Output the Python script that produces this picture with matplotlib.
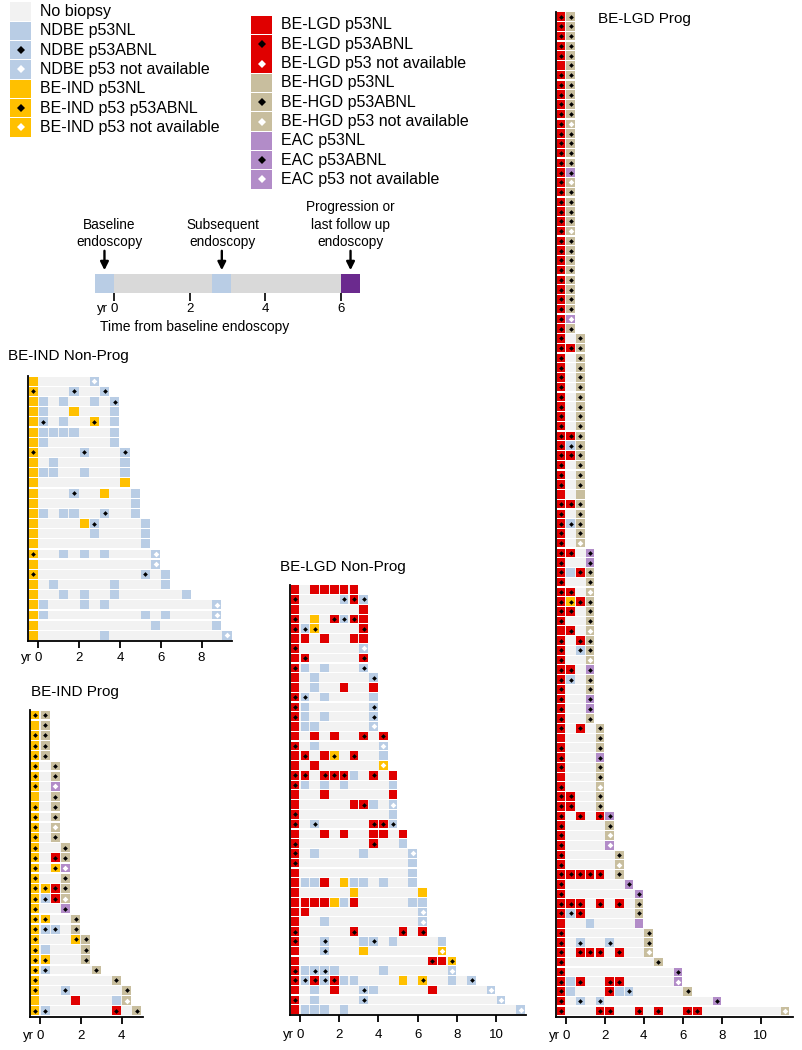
import re
import matplotlib
matplotlib.use("Agg")
import matplotlib.pyplot as plt
from matplotlib.patches import Rectangle

plt.rcParams["font.family"] = ["Liberation Sans", "DejaVu Sans"]

W, H = 803, 1050

# histology colours
colors = {"N": "#B9CDE5", "I": "#FFC000", "L": "#E00000", "H": "#C8BE9E", "E": "#B28CC8"}
no_biopsy = "#F2F2F2"

# one string per patient: "<years><histology><p53>"
# histology N=NDBE I=BE-IND L=BE-LGD H=BE-HGD E=EAC ; p53: a=ABNL, x=not available, none=NL
ind_nonprog = [
    "0I 3Nx", "0Ia 2Na 3.5Na", "0I 0.5N 1.5N 3N 4Na", "0I 0.5N 2I 4N",
    "0I 0.5Na 1.5N 3Ia 4N", "0I 0.5N 1N 1.5N 2N 4N", "0I 0.5N 4N", "0Ia 2.5Na 4.5Na",
    "0I 1N 4.5N", "0I 0.5N 1N 2.5N 4.5N", "0I 4.5I", "0I 2Na 3.5I 5N", "0I 5N",
    "0I 0.5N 1.5N 2N 3.5Na 5N", "0I 2.5I 3Na 5.5N", "0I 3N 5.5N", "0I 5.5N",
    "0Ia 1.5N 2.5N 3.5N 6Nx", "0I 6Nx", "0Ia 5.5Na 6.5N", "0I 1N 4N 6.5N",
    "0I 1.5N 2.5N 4N 7.5N", "0I 0.5N 2.5N 3.5N 9Nx", "0I 0.5N 5.5N 6.5N 9Nx",
    "0I 6N 9N", "0I 3.5N 9.5Nx",
]

ind_prog = [
    "0Ia 0.5Ha", "0I 0.5Ha", "0Ia 0.5Ha", "0Ia 0.5Ha", "0Ia 0.5Ha",
    "0Ia 1Ha", "0Ia 1Ha", "0Ia 1Ex", "0I 1Ha", "0Ia 1Ha", "0Ia 1Ha", "0Ia 1Hx", "0Ia 1Ha",
    "0Ia 1.5Ha", "0Ia 1La 1.5Ha", "0Ia 1Ia 1.5Ex", "0Ia 1.5Ha", "0Ia 0.5Ia 1La 1.5Ha",
    "0Ia 0.5Na 1La 1.5Hx", "0Ia 1.5Ea", "0Ia 0.5Ia 2Ha", "0Ia 0.5Na 1Na 2Ha",
    "0Ia 2Ia 2.5Ha", "0Ia 0.5N 2.5Ha", "0Ia 0.5Ia 2.5Ha", "0Ia 0.5Na 3Ha",
    "0Ia 4Ha", "0Ia 1.5Na 4.5Ha", "0I 2L 4N 4.5Hx", "0Ia 0.5Na 4La 5Ha",
]

lgd_nonprog = [
    "0L 1L 1.5L 2L 2.5L 3L", "0La 2.5Na 3La 3.5Na", "0L 3.5L",
    "0La 1I 2La 2.5Na 3La 3.5L", "0La 0.5Na 1Ia 3.5La", "0L 0.5L 1.5L 3L 3.5L",
    "0La 3.5Nx", "0L 0.5La 3.5La", "0La 0.5N 1.5N 3.5Na", "0L 1N 4Na", "0L 1N 2.5L 4L",
    "0La 0.5Na 1.5N 4N", "0La 0.5N 4Na", "0La 0.5N 1.5N 4Na", "0L 0.5N 1N 4Nx",
    "0L 1L 2L 3.5La 4.5La", "0La 1N 4.5Nx", "0L 0.5La 1.5L 2Ia 3La 4.5N", "0L 1L 4.5Ix",
    "0La 0.5La 1.5La 2La 2.5La 3N 4La 5L", "0La 0.5N 1.5N 2.5N 5N", "0L 1.5L 5L",
    "0L 3L 3.5La 4N 5Nx", "0La 5N", "0La 1Na 4La 4.5La 5Na", "0L 1.5L 2.5L 4L 4.5L 5.5L",
    "0La 4La 5.5N", "0La 1N 3.5N 6Nx", "0La 6N", "0L 6N",
    "0L 0.5N 1N 1.5L 2.5I 3N 3.5N 4.5N 6N", "0L 3I 6.5I",
    "0L 0.5L 1L 1.5L 2I 2.5N 3L 6N 6.5N", "0L 0.5L 6.5Nx", "0L 1.5N 6.5Nx",
    "0La 3La 5.5La 6.5La", "0La 1.5Na 3.5N 4Na 5N 7.5N", "0L 1.5Na 3.5I 7.5Ix",
    "0L 7La 7.5L 8Ia", "0La 0.5N 1Na 1.5Na 2N 4.5N 8Nx",
    "0La 0.5Na 1La 1.5Na 2La 2.5N 3N 5.5I 6.5Ia 8N 9Na",
    "0L 1N 2L 3.5Na 4N 7L 10Nx", "0La 1N 3.5Na 10.5Nx", "0L 0.5N 1N 1.5N 2.5N 11.5Nx",
]

lgd_prog = [
    "0La 0.5Ha", "0La 0.5Ha", "0La 0.5Ha", "0La 0.5Ha", "0La 0.5Ha", "0L 0.5Ha",
    "0La 0.5Ha", "0La 0.5Ha", "0La 0.5Ha", "0La 0.5Ha", "0La 0.5Ha", "0La 0.5Hx",
    "0La 0.5Ha", "0La 0.5Ha", "0La 0.5Ha", "0La 0.5Ha", "0La 0.5Ea", "0La 0.5Hx",
    "0La 0.5Ha", "0La 0.5Ha", "0La 0.5Ha", "0La 0.5Ha", "0La 0.5Hx", "0La 0.5Ha",
    "0La 0.5Ha", "0La 0.5Ha", "0La 0.5Ha", "0La 0.5Ha", "0La 0.5Ha", "0La 0.5Ha",
    "0La 0.5Ha", "0La 0.5Ex", "0La 0.5Ha",
    "0La 1Ha", "0La 0.5La 1Ha", "0La 1Ha", "0La 1Ha", "0La 1Ha", "0La 1Ha",
    "0La 1Ha", "0La 1Ha", "0La 1Ha", "0La 1Ha", "0La 0.5La 1Ha", "0La 0.5Na 1Ha",
    "0La 0.5La 1Ha", "0La 1Ha", "0La 1Ha", "0La 1Ha", "0L 1H", "0La 0.5La 1Ha",
    "0La 1Ha", "0La 0.5Na 1Ha", "0La 1Ha", "0La 1Hx",
    "0La 0.5La 1.5Ea", "0La 1.5Ea", "0La 0.5N 1La 1.5Ha", "0La 1.5Ha",
    "0La 0.5La 1.5Hx", "0La 0.5Ia 1La 1.5Ha", "0La 0.5La 1.5Ha", "0La 1.5Ha",
    "0L 0.5La 1.5Hx", "0La 1La 1.5Ha", "0La 1Na 1.5Ha", "0La 1.5Hx", "0La 0.5La 1.5Ea",
    "0La 0.5Na 1.5Ha", "0La 1.5Ha", "0La 1.5Ea", "0La 1.5Ea", "0La 1.5Ha",
    "0La 1La 2Ha", "0L 2Ha", "0La 2Ha", "0La 2Ea", "0La 2Ha", "0L 2Ha", "0La 2Hx",
    "0La 0.5La 2Ha", "0La 0.5La 2Ha", "0La 1La 2La 2.5Ea", "0La 2.5Ha", "0La 2.5Hx",
    "0La 2.5Ex", "0La 3Ha", "0La 3Hx", "0La 0.5La 1La 1.5La 2La 3Ha", "0La 3.5Ea",
    "0La 4Ea", "0La 0.5La 1La 2La 3La 4Ha", "0La 0.5Na 1La 4Ha", "0L 1.5N 4E",
    "0La 4.5Ha", "0La 1Na 2.5Na 4.5Ha", "0La 1La 1.5La 2La 3La 4.5Hx", "0La 5Ha",
    "0La 6Ea", "0La 0.5N 1La 2.5La 3La 6Ex", "0La 0.5N 2.5La 3N 3.5Na 6.5Ha",
    "0La 1Na 2Na 8Ea", "0La 2La 2.5La 4La 5La 6.5La 7La 11.5Hx",
]

legend_left = [
    ("No biopsy", no_biopsy, ""), ("NDBE p53NL", colors["N"], ""),
    ("NDBE p53ABNL", colors["N"], "a"), ("NDBE p53 not available", colors["N"], "x"),
    ("BE-IND p53NL", colors["I"], ""), ("BE-IND p53 p53ABNL", colors["I"], "a"),
    ("BE-IND p53 not available", colors["I"], "x"),
]
legend_right = [
    ("BE-LGD p53NL", colors["L"], ""), ("BE-LGD p53ABNL", colors["L"], "a"),
    ("BE-LGD p53 not available", colors["L"], "x"), ("BE-HGD p53NL", colors["H"], ""),
    ("BE-HGD p53ABNL", colors["H"], "a"), ("BE-HGD p53 not available", colors["H"], "x"),
    ("EAC p53NL", colors["E"], ""), ("EAC p53ABNL", colors["E"], "a"),
    ("EAC p53 not available", colors["E"], "x"),
]

# schematic example patient (start, end of each endoscopy box, in years)
schem_boxes = [(-0.5, 0.0, colors["N"]), (2.6, 3.1, colors["N"]), (6.0, 6.5, "#6B2A8E")]
schem_labels = ["Baseline\nendoscopy", "Subsequent\nendoscopy", "Progression or\nlast follow up\nendoscopy"]
schem_label_shift = [0.13, 0.02, 0.0]

fig = plt.figure(figsize=(W / 100, H / 100), dpi=100)


def px_axes(left, top, right, bottom):
    return fig.add_axes([left / W, 1 - bottom / H, (right - left) / W, (bottom - top) / H])


# overlay in pixel units for the legends
ov = fig.add_axes([0, 0, 1, 1])
ov.set_xlim(0, W)
ov.set_ylim(H, 0)
ov.axis("off")


def legend_col(items, x0, y0, step=19.3):
    for j, (lab, c, m) in enumerate(items):
        y = y0 + step * j
        ov.add_patch(Rectangle((x0, y - 9.2), 20.5, 18.4, color=c, lw=0))
        if m == "a":
            ov.plot(x0 + 10.25, y, marker="D", ms=4.0, color="black", mew=0)
        elif m == "x":
            ov.plot(x0 + 10.25, y, marker="D", ms=4.2, color="white", mew=0)
        ov.text(x0 + 29.5, y, lab, fontsize=11.5, va="center", ha="left")


legend_col(legend_left, 10.5, 11.5)
legend_col(legend_right, 251.5, 25.0)

# schematic
sx = px_axes(95, 274, 360, 293)
sx.barh(0, 7.0, left=-0.5, height=1, color="#D9D9D9", lw=0)
for a, b, c in schem_boxes:
    sx.barh(0, b - a, left=a, height=1, color=c, lw=0)
for (a, b, c), lab, dx in zip(schem_boxes, schem_labels, schem_label_shift):
    mid = (a + b) / 2
    sx.annotate("", xy=(mid, 0.7), xytext=(mid, 1.72),
                arrowprops=dict(arrowstyle="-|>", color="black", lw=1.7, mutation_scale=12,
                                shrinkA=0, shrinkB=0),
                annotation_clip=False)
    sx.text(mid + dx, 1.8, lab, ha="center", va="bottom", fontsize=9.8, linespacing=1.33)
sx.set_xlim(-0.5, 6.5)
sx.set_ylim(-0.5, 0.5)
for s in sx.spines.values():
    s.set_visible(False)
sx.set_yticks([])
sx.set_xticks([0, 2, 4, 6])
sx.set_xticklabels(["0", "2", "4", "6"])
sx.tick_params(axis="x", length=5.5, width=1.2, labelsize=9.5, pad=2)
sx.annotate("yr", xy=(0, 0), xycoords=sx.get_xaxis_transform(), xytext=(-4.5, -7.5),
            textcoords="offset points", ha="right", va="top", fontsize=9.5)
fig.text(100 / W, 1 - 327 / H, "Time from baseline endoscopy", fontsize=10, ha="left", va="center")

GAP = 0.0275
HT = 0.88


def draw_panel(rows, title, box, xmax, ticks, title_xy, pad):
    ax = px_axes(*box)
    blacks, whites = [], []
    for i, row in enumerate(rows):
        visits = [(float(t), h, m) for t, h, m in re.findall(r"([\d.]+)([NILHE])([ax]?)", row)]
        last = max(v[0] for v in visits)
        ax.barh(i, last + 0.5 - 2 * GAP, left=-0.5 + GAP, height=HT, color=no_biopsy, lw=0, zorder=1)
        for t, h, m in visits:
            ax.barh(i, 0.5 - 2 * GAP, left=t - 0.5 + GAP, height=HT, color=colors[h], lw=0, zorder=2)
            if m == "a":
                blacks.append((t - 0.25, i))
            elif m == "x":
                whites.append((t - 0.25, i))
    if blacks:
        ax.plot([p[0] for p in blacks], [p[1] for p in blacks], ls="none", marker="D",
                ms=2.4, color="black", mew=0, zorder=3)
    if whites:
        ax.plot([p[0] for p in whites], [p[1] for p in whites], ls="none", marker="D",
                ms=2.9, color="white", mew=0, zorder=3)
    ax.set_xlim(-0.5, xmax)
    ax.set_ylim(len(rows) - 1 + 0.57, -0.5)
    ax.spines["top"].set_visible(False)
    ax.spines["right"].set_visible(False)
    ax.spines["left"].set_linewidth(1.3)
    ax.spines["bottom"].set_linewidth(1.3)
    ax.set_yticks([])
    ax.set_xticks(ticks)
    ax.set_xticklabels([str(t) for t in ticks])
    ax.tick_params(axis="x", length=5, width=1.3, labelsize=9.5, pad=pad)
    ax.annotate("yr", xy=(0, 0), xycoords=ax.get_xaxis_transform(), xytext=(-4.5, -(5 + pad)),
                textcoords="offset points", ha="right", va="top", fontsize=9.5)
    fig.text(title_xy[0] / W, 1 - title_xy[1] / H, title, fontsize=11, ha="left", va="center")


draw_panel(ind_nonprog, "BE-IND Non-Prog", (28.1, 376.2, 232.1, 641.1), 9.5, [0, 2, 4, 6, 8],
           (8, 356), 2.5)
draw_panel(ind_prog, "BE-IND Prog", (29.8, 709.9, 143.0, 1016.6), 5.05, [0, 2, 4], (31, 692), 5)
draw_panel(lgd_nonprog, "BE-LGD Non-Prog", (290.2, 584.8, 526.4, 1015.2), 11.55,
           [0, 2, 4, 6, 8, 10], (280, 567), 5)
draw_panel(lgd_prog, "BE-LGD Prog", (556.0, 11.8, 792.9, 1016.5), 11.65,
           [0, 2, 4, 6, 8, 10], (598, 19), 5)

fig.savefig("out.png", dpi=100)
